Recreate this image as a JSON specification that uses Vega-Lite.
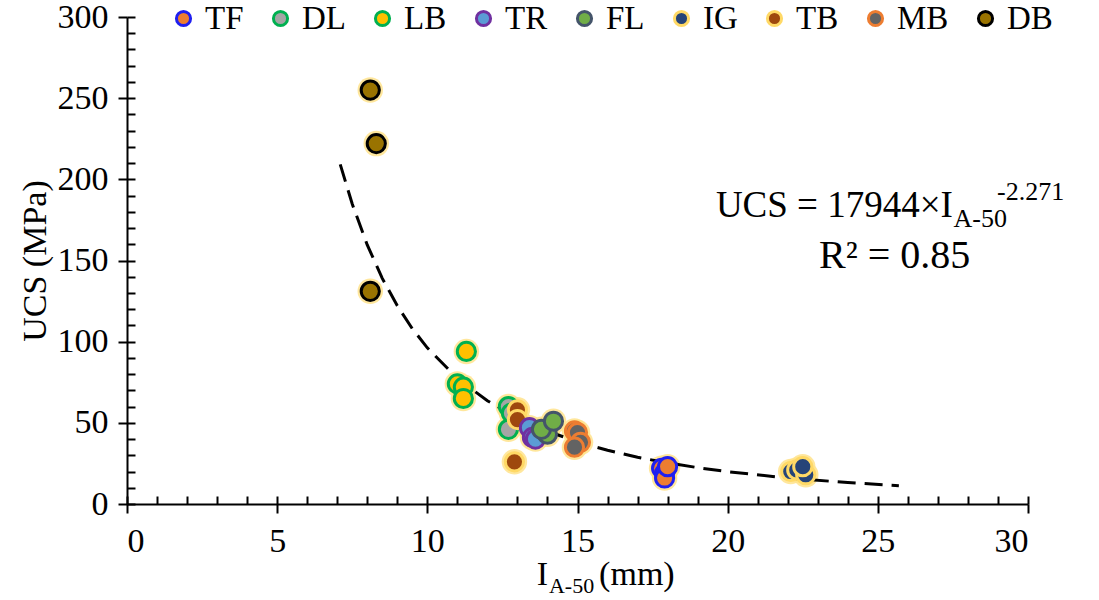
{
  "$schema": "https://vega.github.io/schema/vega-lite/v6.json",
  "width": 901,
  "height": 487,
  "autosize": {"type": "none"},
  "padding": {"left": 127, "top": 17, "right": 71, "bottom": 96},
  "background": "white",
  "config": {
    "view": {"stroke": null},
    "font": "Liberation Serif",
    "axis": {"grid": false, "domainColor": "black", "tickColor": "black", "labelColor": "black", "titleColor": "black", "labelFont": "Liberation Serif", "titleFont": "Liberation Serif", "titleFontWeight": "normal", "domainWidth": 2, "tickWidth": 2},
    "text": {"font": "Liberation Serif", "color": "black"}
  },
  "datasets": {
    "samples": [
      {"rock": "DB", "ia50": 8.1, "ucs": 255},
      {"rock": "DB", "ia50": 8.3, "ucs": 222},
      {"rock": "DB", "ia50": 8.1, "ucs": 131},
      {"rock": "LB", "ia50": 11.3, "ucs": 94},
      {"rock": "LB", "ia50": 11.0, "ucs": 74},
      {"rock": "LB", "ia50": 11.2, "ucs": 72},
      {"rock": "LB", "ia50": 11.2, "ucs": 65},
      {"rock": "DL", "ia50": 12.7, "ucs": 60},
      {"rock": "DL", "ia50": 12.8, "ucs": 56},
      {"rock": "DL", "ia50": 12.7, "ucs": 46},
      {"rock": "TB", "ia50": 13.0, "ucs": 58},
      {"rock": "TB", "ia50": 13.0, "ucs": 52},
      {"rock": "TB", "ia50": 12.9, "ucs": 26},
      {"rock": "TR", "ia50": 13.4, "ucs": 47},
      {"rock": "TR", "ia50": 13.5, "ucs": 41},
      {"rock": "TR", "ia50": 13.6, "ucs": 40},
      {"rock": "FL", "ia50": 13.9, "ucs": 45},
      {"rock": "FL", "ia50": 14.0, "ucs": 43},
      {"rock": "FL", "ia50": 13.8, "ucs": 46},
      {"rock": "FL", "ia50": 14.2, "ucs": 51},
      {"rock": "MB", "ia50": 14.9, "ucs": 45},
      {"rock": "MB", "ia50": 15.0, "ucs": 44},
      {"rock": "MB", "ia50": 15.1, "ucs": 38},
      {"rock": "MB", "ia50": 14.9, "ucs": 35},
      {"rock": "TF", "ia50": 17.8, "ucs": 22},
      {"rock": "TF", "ia50": 17.9, "ucs": 19},
      {"rock": "TF", "ia50": 17.9, "ucs": 16},
      {"rock": "TF", "ia50": 18.0, "ucs": 23},
      {"rock": "IG", "ia50": 22.1, "ucs": 20},
      {"rock": "IG", "ia50": 22.3, "ucs": 21},
      {"rock": "IG", "ia50": 22.6, "ucs": 18},
      {"rock": "IG", "ia50": 22.5, "ucs": 23}
    ],
    "powerFit": [
      {"ia50": 7.1, "ucs": 209.2},
      {"ia50": 7.5, "ucs": 184.8},
      {"ia50": 8, "ucs": 159.6},
      {"ia50": 8.5, "ucs": 139.0},
      {"ia50": 9, "ucs": 122.1},
      {"ia50": 9.5, "ucs": 108.0},
      {"ia50": 10, "ucs": 96.2},
      {"ia50": 11, "ucs": 77.4},
      {"ia50": 12, "ucs": 63.6},
      {"ia50": 13, "ucs": 53.0},
      {"ia50": 14, "ucs": 44.8},
      {"ia50": 15, "ucs": 38.3},
      {"ia50": 16, "ucs": 33.1},
      {"ia50": 17, "ucs": 28.8},
      {"ia50": 18, "ucs": 25.3},
      {"ia50": 19, "ucs": 22.4},
      {"ia50": 20, "ucs": 19.9},
      {"ia50": 22, "ucs": 16.0},
      {"ia50": 24, "ucs": 13.2},
      {"ia50": 25.7, "ucs": 11.3}
    ],
    "one": [{}]
  },
  "layer": [
    {
      "data": {"name": "samples"},
      "mark": {"type": "point", "shape": "circle", "filled": true, "size": 650, "color": "#FFE38C", "opacity": 0.85},
      "encoding": {
        "x": {"field": "ia50", "type": "quantitative", "scale": {"domain": [0, 30], "nice": false},
          "axis": {"orient": "bottom", "values": [0, 5, 10, 15, 20, 25, 30], "tickSize": 9, "labelFontSize": 34, "labelPadding": 11, "title": null}},
        "y": {"field": "ucs", "type": "quantitative", "scale": {"domain": [0, 300], "nice": false},
          "axis": {"orient": "left", "values": [0, 50, 100, 150, 200, 250, 300], "tickSize": 9, "labelFontSize": 34, "labelPadding": 10, "title": "UCS (MPa)", "titleFontSize": 34, "titlePadding": 5}}
      }
    },
    {
      "data": {"name": "powerFit"},
      "mark": {"type": "line", "color": "black", "strokeWidth": 3, "strokeDash": [18, 9]},
      "encoding": {
        "x": {"field": "ia50", "type": "quantitative",
          "axis": {"orient": "bottom", "values": [0, 1, 2, 3, 4, 5, 6, 7, 8, 9, 10, 11, 12, 13, 14, 15, 16, 17, 18, 19, 20, 21, 22, 23, 24, 25, 26, 27, 28, 29, 30], "tickSize": -8, "labels": false, "domain": false, "title": null}},
        "y": {"field": "ucs", "type": "quantitative",
          "axis": {"orient": "left", "values": [0, 10, 20, 30, 40, 50, 60, 70, 80, 90, 100, 110, 120, 130, 140, 150, 160, 170, 180, 190, 200, 210, 220, 230, 240, 250, 260, 270, 280, 290, 300], "tickSize": -8, "labels": false, "domain": false, "title": null}}
      }
    },
    {
      "data": {"name": "samples"},
      "mark": {"type": "point", "shape": "circle", "filled": true, "size": 330, "strokeWidth": 3, "opacity": 1},
      "encoding": {
        "x": {"field": "ia50", "type": "quantitative", "axis": null},
        "y": {"field": "ucs", "type": "quantitative", "axis": null},
        "fill": {"field": "rock", "type": "nominal",
          "scale": {"domain": ["TF", "DL", "LB", "TR", "FL", "IG", "TB", "MB", "DB"],
                    "range": ["#ED7D31", "#A5A5A5", "#FFC000", "#5B9BD5", "#70AD47", "#264478", "#9E480E", "#636363", "#997300"]},
          "legend": {"orient": "none", "direction": "horizontal", "legendX": 40, "legendY": -15, "title": null, "gridAlign": "none",
                     "labelFontSize": 33, "labelFont": "Liberation Serif", "labelColor": "black", "labelOffset": 5,
                     "symbolType": "circle", "symbolSize": 200, "symbolStrokeWidth": 3, "columnPadding": 20}},
        "stroke": {"field": "rock", "type": "nominal",
          "scale": {"domain": ["TF", "DL", "LB", "TR", "FL", "IG", "TB", "MB", "DB"],
                    "range": ["#1F1FF0", "#00B050", "#00B050", "#7030A0", "#44546A", "#FFD966", "#FFD966", "#ED7D31", "#000000"]},
          "legend": {"orient": "none", "direction": "horizontal", "legendX": 40, "legendY": -15, "title": null, "gridAlign": "none",
                     "labelFontSize": 33, "labelFont": "Liberation Serif", "labelColor": "black", "labelOffset": 5,
                     "symbolType": "circle", "symbolSize": 200, "symbolStrokeWidth": 3, "columnPadding": 20}}
      }
    },
    {
      "data": {"name": "one"},
      "mark": {"type": "text", "align": "right", "baseline": "alphabetic", "fontSize": 37},
      "encoding": {"x": {"datum": 27.5, "type": "quantitative", "axis": null}, "y": {"datum": 176.7, "type": "quantitative", "axis": null}, "text": {"value": "UCS = 17944×I"}}
    },
    {
      "data": {"name": "one"},
      "mark": {"type": "text", "align": "left", "baseline": "alphabetic", "fontSize": 26},
      "encoding": {"x": {"datum": 27.52, "type": "quantitative", "axis": null}, "y": {"datum": 170.6, "type": "quantitative", "axis": null}, "text": {"value": "A-50"}}
    },
    {
      "data": {"name": "one"},
      "mark": {"type": "text", "align": "left", "baseline": "alphabetic", "fontSize": 26},
      "encoding": {"x": {"datum": 28.97, "type": "quantitative", "axis": null}, "y": {"datum": 187, "type": "quantitative", "axis": null}, "text": {"value": "-2.271"}}
    },
    {
      "data": {"name": "one"},
      "mark": {"type": "text", "align": "center", "baseline": "alphabetic", "fontSize": 40},
      "encoding": {"x": {"datum": 25.56, "type": "quantitative", "axis": null}, "y": {"datum": 145.3, "type": "quantitative", "axis": null}, "text": {"value": "R² = 0.85"}}
    },
    {
      "data": {"name": "one"},
      "mark": {"type": "text", "align": "right", "baseline": "alphabetic", "fontSize": 34},
      "encoding": {"x": {"datum": 14.02, "type": "quantitative", "axis": null}, "y": {"datum": -49.9, "type": "quantitative", "axis": null}, "text": {"value": "I"}}
    },
    {
      "data": {"name": "one"},
      "mark": {"type": "text", "align": "left", "baseline": "alphabetic", "fontSize": 22},
      "encoding": {"x": {"datum": 14.05, "type": "quantitative", "axis": null}, "y": {"datum": -54.8, "type": "quantitative", "axis": null}, "text": {"value": "A-50"}}
    },
    {
      "data": {"name": "one"},
      "mark": {"type": "text", "align": "left", "baseline": "alphabetic", "fontSize": 34},
      "encoding": {"x": {"datum": 15.72, "type": "quantitative", "axis": null}, "y": {"datum": -49.9, "type": "quantitative", "axis": null}, "text": {"value": "(mm)"}}
    }
  ],
  "resolve": {"axis": {"x": "independent", "y": "independent"}}
}
